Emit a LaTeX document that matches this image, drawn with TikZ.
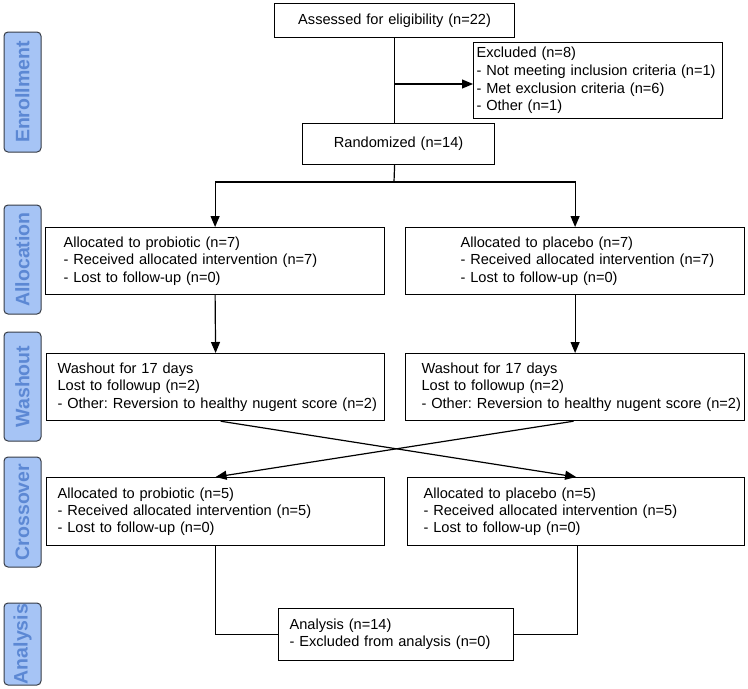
\documentclass[tikz,border=0pt]{standalone}
\usepackage{fontspec}
\setmainfont{Liberation Sans}
\usetikzlibrary{arrows.meta}
\definecolor{sidefill}{RGB}{166,196,245}
\definecolor{sidetext}{RGB}{92,136,212}
\definecolor{sidedraw}{RGB}{55,60,70}
\newcommand{\lpad}[1]{\frenchspacing\leftskip=#1pt\relax}
\begin{document}
\begin{tikzpicture}[x=1pt,y=-1pt,
  pbox/.style={draw, line width=1.2pt, inner xsep=0pt, inner ysep=0pt,
    anchor=north west, align=left, font=\fontsize{14.6}{17.2}\selectfont},
  cbox/.style={pbox, align=center},
  side/.style={draw=sidedraw, line width=1pt, fill=sidefill, rounded corners=4pt,
    rotate=90, minimum height=37pt, inner sep=0pt, text=sidetext,
    font=\fontsize{19.5}{22}\selectfont\bfseries},
  conn/.style={line width=1.2pt},
  arr/.style={conn, -{Triangle[length=11pt,width=9pt]}}]
\useasboundingbox (0,0) rectangle (748,689);
% side labels
\node[side, minimum width=120pt] (sEnr) at (22.5,92) {Enrollment};
\node[side, minimum width=109pt] (sAll) at (22.5,259.5) {Allocation};
\node[side, minimum width=109pt] (sWas) at (22.5,386.5) {Washout};
\node[side, minimum width=110pt] (sCro) at (22.5,512) {Crossover};
\node[side, minimum width=82pt] (sAna) at (22.5,644) {Analysis};
% main boxes
\node[cbox, text width=240pt, minimum height=34pt] (assess) at (274,3) {Assessed for eligibility (n=22)};
\node[pbox, text width=249pt, minimum height=76pt, font=\fontsize{14.6}{17.7}\selectfont] (excl) at (473,42)
  {\lpad{3}Excluded (n=8)\\- Not meeting inclusion criteria (n=1)\\- Met exclusion criteria (n=6)\\- Other (n=1)\par};
\node[cbox, text width=192pt, minimum height=41pt] (rand) at (302,123) {Randomized (n=14)};
\node[pbox, text width=339pt, minimum height=67pt] (al1) at (45,227)
  {\lpad{18}Allocated to probiotic (n=7)\\- Received allocated intervention (n=7)\\- Lost to follow-up (n=0)\par};
\node[pbox, text width=339pt, minimum height=67pt] (al2) at (405,227)
  {\lpad{55}Allocated to placebo (n=7)\\- Received allocated intervention (n=7)\\- Lost to follow-up (n=0)\par};
\node[pbox, text width=338pt, minimum height=67pt] (wo1) at (46,353)
  {\lpad{11}Washout for 17 days\\Lost to followup (n=2)\\- Other: Reversion to healthy nugent score (n=2)\par};
\node[pbox, text width=339pt, minimum height=67pt] (wo2) at (405,353)
  {\lpad{16}Washout for 17 days\\Lost to followup (n=2)\\- Other: Reversion to healthy nugent score (n=2)\par};
\node[pbox, text width=338pt, minimum height=68pt] (cr1) at (46,477)
  {\lpad{11}Allocated to probiotic (n=5)\\- Received allocated intervention (n=5)\\- Lost to follow-up (n=0)\par};
\node[pbox, text width=337pt, minimum height=68pt] (cr2) at (407,477)
  {\lpad{16}Allocated to placebo (n=5)\\- Received allocated intervention (n=5)\\- Lost to follow-up (n=0)\par};
\node[pbox, text width=235pt, minimum height=52pt] (ana) at (278,608)
  {\lpad{11}Analysis (n=14)\\- Excluded from analysis (n=0)\par};
% connectors
\coordinate (br) at (394,84);
\coordinate (split) at (394,182);
\draw[conn] (assess.south) -- (assess.south |- rand.north);
\draw[arr] (br) -- (br -| excl.west);
\draw[conn] (assess.south |- rand.south) -- (split);
\draw[arr] (split) -| (al1.north);
\draw[arr] (split) -| (al2.north);
\draw[arr] (al1.south) -- (wo1.north);
\draw[arr] (al2.south) -- (wo2.north);
\draw[arr] ([xshift=5pt]wo1.south) -- (cr2.north);
\draw[arr] ([xshift=-1.5pt]wo2.south) -- (cr1.north);
\draw[conn] (cr1.south) |- (ana.west);
\draw[conn] ([xshift=1.5pt]cr2.south) |- (ana.east);
\end{tikzpicture}
\end{document}
